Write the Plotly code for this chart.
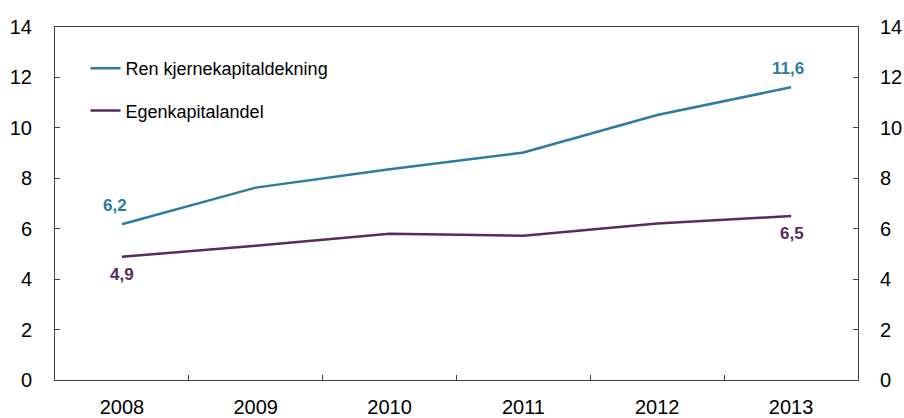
import plotly.graph_objects as go

years = ["2008", "2009", "2010", "2011", "2012", "2013"]
ren_kjerne = [6.18, 7.63, 8.36, 9.02, 10.51, 11.61]
egenkapital = [4.89, 5.32, 5.80, 5.72, 6.21, 6.50]
series_names = ["Ren kjernekapitaldekning", "Egenkapitalandel"]
label_ren = ["6,2", "11,6"]
label_egen = ["4,9", "6,5"]

BLUE = "#2B7BA3"
PURPLE = "#5B2A5D"
FONT = "Liberation Sans, Arial, sans-serif"

fig = go.Figure()
fig.add_trace(go.Scatter(x=years, y=ren_kjerne, mode="lines", name=series_names[0],
                         line=dict(color=BLUE, width=2.5), legendgroup="a"))
fig.add_trace(go.Scatter(x=years, y=egenkapital, mode="lines", name=series_names[1],
                         line=dict(color=PURPLE, width=2.5), legendgroup="b"))
# invisible trace for right axis
fig.add_trace(go.Scatter(x=years, y=ren_kjerne, yaxis="y2", mode="lines",
                         line=dict(width=0), showlegend=False, hoverinfo="skip", opacity=0))

first, last = 0, len(years) - 1
ann = [
    dict(x=first, y=ren_kjerne[first], text=label_ren[0], xshift=-7, yshift=19, color=BLUE),
    dict(x=last, y=ren_kjerne[last], text=label_ren[1], xshift=-3, yshift=19, color=BLUE),
    dict(x=first, y=egenkapital[first], text=label_egen[0], xshift=0, yshift=-18, color=PURPLE),
    dict(x=last, y=egenkapital[last], text=label_egen[1], xshift=1, yshift=-17, color=PURPLE),
]
for a in ann:
    fig.add_annotation(x=a["x"], y=a["y"], text="<b>%s</b>" % a["text"], showarrow=False,
                       xshift=a["xshift"], yshift=a["yshift"], xref="x", yref="y",
                       font=dict(family=FONT, size=17, color=a["color"]))

axis_line = "#404040"
fig.update_layout(
    width=904, height=418,
    margin=dict(l=55, r=46, t=27, b=38, autoexpand=False),
    paper_bgcolor="white", plot_bgcolor="white",
    font=dict(family=FONT, color="black"),
    showlegend=True,
    legend=dict(x=0.038, y=0.935, xanchor="left", yanchor="top",
                font=dict(family=FONT, size=18, color="black"),
                bgcolor="rgba(0,0,0,0)", tracegroupgap=16),
    xaxis=dict(type="category", range=[-0.5, 5.5], showline=True, linecolor=axis_line,
               linewidth=1, mirror=True, ticks="inside", tickson="boundaries", ticklen=5,
               tickcolor=axis_line, showgrid=False, zeroline=False, automargin=False,
               tickfont=dict(family=FONT, size=20, color="black"), ticklabelstandoff=9),
    yaxis=dict(range=[0, 14], dtick=2, showline=True, linecolor=axis_line, linewidth=1,
               ticks="inside", ticklen=5, tickcolor=axis_line, showgrid=False, zeroline=False,
               automargin=False,
               tickfont=dict(family=FONT, size=20, color="black"), ticklabelstandoff=18),
    yaxis2=dict(range=[0, 14], dtick=2, overlaying="y", side="right", showline=True,
                linecolor=axis_line, linewidth=1, ticks="inside", ticklen=5, tickcolor=axis_line,
                showgrid=False, zeroline=False, automargin=False,
                tickfont=dict(family=FONT, size=20, color="black"), ticklabelstandoff=17),
)

fig.write_html("out.html", config={"displayModeBar": False},
               post_script="document.body.style.margin='0';document.body.style.overflow='hidden';")
